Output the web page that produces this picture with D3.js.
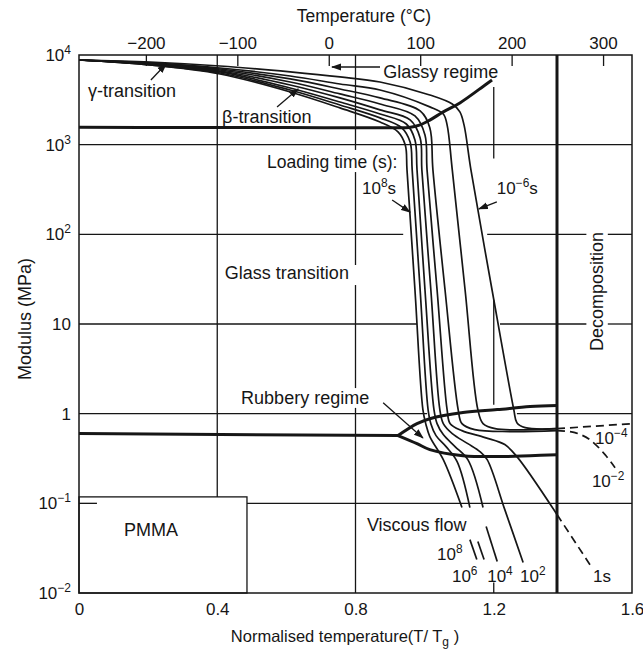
<!DOCTYPE html>
<html>
<head>
<meta charset="utf-8">
<script src="https://cdn.jsdelivr.net/npm/d3@7"></script>
<style>
  html, body { margin: 0; padding: 0; background: #fff; }
  svg { display: block; font-family: "Liberation Sans", Arial, Helvetica, sans-serif; }
</style>
</head>
<body>
<svg id="chart" width="643" height="653"></svg>
<script>
// PMMA modulus vs normalised temperature, for loading times 1e8 s ... 1e-6 s
// points are [T/Tg, modulus in MPa]

const TG = 378; // K, used for the top (°C) axis
const xTicks = [0, 0.4, 0.8, 1.2, 1.6];
const yTicks = [1e-2, 1e-1, 1, 10, 100, 1000, 1e4];
const yTickLabels = [['10', '−2'], ['10', '−1'], ['1'], ['10'], ['10', '2'], ['10', '3'], ['10', '4']];
const tempTicks = [-200, -100, 0, 100, 200, 300];
const xDecomp = 1.383;

// each loading-time curve: solid segments, then an optional dashed tail
const t1e8 = [
  [[0, 8800], [0.206, 7740], [0.408, 6140], [0.611, 3870], [0.755, 2570], [0.871, 1790], [0.923, 1390], [0.944, 990], [0.949, 524], [0.972, 24.1], [0.995, 1.11], [1.004, 0.754], [1.015, 0.555], [1.054, 0.307], [1.108, 0.0897]],
  [[1.131, 0.0394], [1.151, 0.0236]]
];
const t1e6 = [
  [[0, 8800], [0.206, 7740], [0.408, 6300], [0.611, 4070], [0.755, 2770], [0.871, 1990], [0.934, 1540], [0.958, 1070], [0.964, 524], [0.987, 24.1], [1.010, 1.11], [1.018, 0.774], [1.033, 0.569], [1.062, 0.429], [1.094, 0.292], [1.131, 0.0897]],
  [[1.154, 0.0375], [1.172, 0.0236]]
];
const t1e4 = [
  [[0, 8800], [0.206, 7840], [0.408, 6470], [0.611, 4290], [0.755, 2990], [0.871, 2200], [0.947, 1700], [0.972, 1130], [0.978, 524], [1.001, 24.1], [1.027, 1.11], [1.036, 0.774], [1.054, 0.584], [1.088, 0.429], [1.125, 0.307], [1.169, 0.0897]],
  [[1.178, 0.0551], [1.210, 0.0224]]
];
const t1e2 = [
  [[0, 8800], [0.206, 7940], [0.408, 6630], [0.611, 4630], [0.755, 3320], [0.871, 2440], [0.958, 1890], [0.987, 1190], [0.992, 524], [1.018, 24.1], [1.044, 1.11], [1.054, 0.774], [1.080, 0.599], [1.125, 0.463], [1.160, 0.377], [1.181, 0.307], [1.232, 0.0851], [1.285, 0.0219]]
];
const t1 = [
  [[0, 8800], [0.206, 7940], [0.408, 6800], [0.611, 5000], [0.755, 3680], [0.871, 2840], [0.972, 2090], [1.001, 1280], [1.007, 524], [1.036, 24.1], [1.065, 1.11], [1.074, 0.774], [1.108, 0.647], [1.175, 0.541], [1.232, 0.452], [1.267, 0.332], [1.383, 0.0750]]
];
const t1Dashed = [[1.383, 0.0750], [1.484, 0.0192]];
const t1em2 = [
  [[0, 8800], [0.206, 8150], [0.408, 6980], [0.611, 5410], [0.755, 4180], [0.871, 3320], [0.987, 2380], [1.015, 1540], [1.024, 524], [1.059, 24.1], [1.097, 1.11], [1.108, 0.774], [1.145, 0.664], [1.247, 0.631], [1.383, 0.647]]
];
const t1em2Dashed = [[1.383, 0.647], [1.435, 0.614], [1.478, 0.513], [1.522, 0.349], [1.551, 0.250]];
const t1em4 = [
  [[0, 8800], [0.206, 8150], [0.408, 7160], [0.611, 5830], [0.755, 4750], [0.871, 4070], [1.015, 2640], [1.054, 2200], [1.065, 1660], [1.080, 524], [1.117, 24.1], [1.154, 1.11], [1.169, 0.774], [1.204, 0.680], [1.383, 0.680]]
];
const t1em4Dashed = [[1.383, 0.680], [1.6, 0.774]];
const t1em6 = [
  [[0, 8800], [0.206, 8360], [0.408, 7540], [0.611, 6470], [0.755, 5690], [0.871, 5000], [1.015, 3580], [1.080, 2840], [1.102, 2320], [1.114, 1660], [1.134, 524], [1.195, 24.1], [1.258, 1.11], [1.267, 0.794], [1.291, 0.698], [1.383, 0.680]]
];

// heavy boundary lines
const glassyEdge = [[0, 1560], [0.3, 1555], [0.6, 1550], [0.9, 1545], [0.955, 1555], [0.985, 1650], [1.015, 1880], [1.054, 2320], [1.102, 2920], [1.175, 4630], [1.195, 5260]];
const rubberyPlateau = [[0, 0.60], [0.923, 0.57]];
const lensUpper = [[0.923, 0.57], [0.978, 0.774], [1.015, 0.879], [1.111, 1.03], [1.210, 1.11], [1.305, 1.20], [1.383, 1.23]];
const lensLower = [[0.923, 0.57], [0.978, 0.463], [1.015, 0.397], [1.111, 0.340], [1.210, 0.332], [1.305, 0.340], [1.383, 0.349]];

// broken grid: [E, x from, x to] and [x, E top, E bottom]
const hGrid = [
  [1000, 0, 1.6],
  [100, 0, 0.938], [100, 1.181, 1.468], [100, 1.53, 1.6],
  [10, 0, 0.978], [10, 1.218, 1.468], [10, 1.53, 1.6],
  [1, 0, 1.007], [1, 1.267, 1.6],
  [0.1, 0, 0.052], [0.1, 0.486, 1.6]
];
const vGrid = [
  [0.4, 1e4, 0.118],
  [0.8, 1e4, 873], [0.8, 495, 45.5], [0.8, 27.2, 1.93], [0.8, 1.16, 0.01],
  [1.2, 4400, 700], [1.2, 18.6, 1.26], [1.2, 0.0131, 0.01]
];
const pmmaBox = { x0: 0, x1: 0.486, E0: 0.01, E1: 0.118 };

// annotation text: parts are [string, 'sup'|undefined]
const notes = [
  { parts: [['γ-transition']], x: 0.026, E: 3400, size: 18 },
  { parts: [['β-transition']], x: 0.414, E: 1750, size: 18 },
  { parts: [['Glassy regime']], x: 0.880, E: 5540, size: 18 },
  { parts: [['Loading time (s):']], x: 0.544, E: 550, size: 17.5 },
  { parts: [['10'], ['8', 'sup'], ['s']], x: 0.819, E: 282, size: 17 },
  { parts: [['10'], ['−6', 'sup'], ['s']], x: 1.209, E: 282, size: 17 },
  { parts: [['Glass transition']], x: 0.422, E: 31.8, size: 18 },
  { parts: [['Rubbery regime']], x: 0.469, E: 1.28, size: 18 },
  { parts: [['Viscous flow']], x: 0.833, E: 0.0492, size: 18 },
  { parts: [['PMMA']], x: 0.130, E: 0.0433, size: 18 },
  { parts: [['10'], ['8', 'sup']], x: 1.036, E: 0.0233, size: 17 },
  { parts: [['10'], ['6', 'sup']], x: 1.079, E: 0.0133, size: 17 },
  { parts: [['10'], ['4', 'sup']], x: 1.181, E: 0.0133, size: 17 },
  { parts: [['10'], ['2', 'sup']], x: 1.276, E: 0.0133, size: 17 },
  { parts: [['1s']], x: 1.487, E: 0.0133, size: 17 },
  { parts: [['10'], ['−4', 'sup']], x: 1.493, E: 0.459, size: 17 },
  { parts: [['10'], ['−2', 'sup']], x: 1.484, E: 0.152, size: 17 }
];
// arrows: [from x, from E, to x, to E]
const arrows = [
  [0.208, 5260, 0.252, 7940],
  [0.573, 2630, 0.634, 4180],
  [0.871, 7350, 0.732, 7350],
  [0.906, 242, 0.958, 177],
  [1.209, 230, 1.157, 192],
  [0.880, 1.32, 0.995, 0.536]
];

const svg = d3.select('#chart');
const ink = '#161616';

const x = d3.scaleLinear().domain([0, 1.6]).range([79, 632]);
const y = d3.scaleLog().domain([0.01, 1e4]).range([593, 55]);
const tScale = d3.scaleLinear()
    .domain([-273.15, -273.15 + 1.6 * TG])
    .range([x(0), x(1.6)]);

const line = d3.line()
    .x(d => x(d[0]))
    .y(d => y(d[1]))
    .curve(d3.curveCatmullRom.alpha(0.5));

svg.append('defs').append('marker')
    .attr('id', 'head')
    .attr('markerUnits', 'userSpaceOnUse')
    .attr('markerWidth', 10).attr('markerHeight', 8)
    .attr('refX', 9).attr('refY', 4)
    .attr('orient', 'auto')
    .append('path')
    .attr('d', 'M0,0.5 L10,4 L0,7.5 Z')
    .attr('fill', ink);

// grid
const grid = svg.append('g').attr('stroke', ink).attr('stroke-width', 1.3);
hGrid.forEach(([E, a, b]) => {
    grid.append('line').attr('x1', x(a)).attr('x2', x(b)).attr('y1', y(E)).attr('y2', y(E));
});
vGrid.forEach(([v, e0, e1]) => {
    grid.append('line').attr('x1', x(v)).attr('x2', x(v)).attr('y1', y(e0)).attr('y2', y(e1));
});
grid.append('rect')
    .attr('x', x(pmmaBox.x0)).attr('y', y(pmmaBox.E1))
    .attr('width', x(pmmaBox.x1) - x(pmmaBox.x0))
    .attr('height', y(pmmaBox.E0) - y(pmmaBox.E1))
    .attr('fill', 'none');

// frame + decomposition line
svg.append('rect')
    .attr('x', x(0)).attr('y', y(1e4))
    .attr('width', x(1.6) - x(0)).attr('height', y(0.01) - y(1e4))
    .attr('fill', 'none').attr('stroke', ink).attr('stroke-width', 1.5);
svg.append('line')
    .attr('x1', x(xDecomp)).attr('x2', x(xDecomp))
    .attr('y1', y(1e4)).attr('y2', y(0.01))
    .attr('stroke', ink).attr('stroke-width', 3);

// heavy regime boundaries
[glassyEdge, rubberyPlateau, lensUpper, lensLower].forEach(pts => {
    svg.append('path').attr('d', line(pts))
        .attr('fill', 'none').attr('stroke', ink).attr('stroke-width', 3);
});

// loading-time curves
const curves = svg.append('g').attr('fill', 'none').attr('stroke', ink)
    .attr('stroke-width', 1.7).attr('stroke-linejoin', 'round');
[t1e8, t1e6, t1e4, t1e2, t1, t1em2, t1em4, t1em6].forEach(segs => {
    segs.forEach(seg => curves.append('path').attr('d', line(seg)));
});
[t1Dashed, t1em2Dashed, t1em4Dashed].forEach(seg => {
    curves.append('path').attr('d', line(seg)).attr('stroke-dasharray', '8,5');
});

// text helper with superscripts
function richText(g, parts, px, py, size) {
    const t = g.append('text').attr('x', px).attr('y', py).attr('font-size', size);
    let shift = 0;
    parts.forEach(([s, kind]) => {
        const want = kind === 'sup' ? -Math.round(size * 0.42) : kind === 'sub' ? 4 : 0;
        const sp = t.append('tspan').text(s);
        if (want !== shift) sp.attr('dy', want - shift);
        if (kind) sp.attr('font-size', size * 0.7);
        shift = want;
    });
    return t;
}

const notesG = svg.append('g').attr('fill', ink);
notes.forEach(n => richText(notesG, n.parts, x(n.x), y(n.E), n.size));
notesG.append('text')
    .attr('transform', `translate(${x(1.499)},${y(23)}) rotate(-90)`)
    .attr('text-anchor', 'middle').attr('dominant-baseline', 'central')
    .attr('font-size', 18)
    .text('Decomposition');

const arrowG = svg.append('g').attr('stroke', ink).attr('stroke-width', 1.3);
arrows.forEach(([a, e0, b, e1]) => {
    arrowG.append('line')
        .attr('x1', x(a)).attr('y1', y(e0))
        .attr('x2', x(b)).attr('y2', y(e1))
        .attr('marker-end', 'url(#head)');
});

// axes
const axisLeftG = svg.append('g')
    .attr('transform', `translate(${x(0)},0)`)
    .call(d3.axisLeft(y).tickValues(yTicks).tickSize(0).tickPadding(8));
axisLeftG.select('.domain').remove();
axisLeftG.selectAll('text').each(function (d, i) {
    const t = d3.select(this).text(null).attr('font-size', 17).attr('fill', ink);
    const lab = yTickLabels[i];
    t.append('tspan').text(lab[0]);
    if (lab[1]) t.append('tspan').attr('dy', -7).attr('font-size', 12).text(lab[1]);
});

const axisBottomG = svg.append('g')
    .attr('transform', `translate(0,${y(0.01)})`)
    .call(d3.axisBottom(x).tickValues(xTicks).tickSize(0).tickPadding(10)
        .tickFormat(d => d === 0 ? '0' : d.toFixed(1)));
axisBottomG.select('.domain').remove();
axisBottomG.selectAll('text').attr('font-size', 17).attr('fill', ink);

const axisTopG = svg.append('g')
    .attr('transform', `translate(0,${y(1e4)})`)
    .call(d3.axisTop(tScale).tickValues(tempTicks).tickSize(-11).tickPadding(6)
        .tickFormat(d => d < 0 ? '−' + Math.abs(d) : String(d)));
axisTopG.select('.domain').remove();
axisTopG.selectAll('line').attr('stroke', ink).attr('stroke-width', 1.3);
axisTopG.selectAll('text').attr('font-size', 17).attr('fill', ink);

// axis titles
svg.append('text')
    .attr('x', 364).attr('y', 22)
    .attr('text-anchor', 'middle').attr('font-size', 17.5).attr('fill', ink)
    .text('Temperature (°C)');
svg.append('text')
    .attr('transform', 'translate(31,319) rotate(-90)')
    .attr('text-anchor', 'middle').attr('font-size', 18).attr('fill', ink)
    .text('Modulus (MPa)');
const xTitle = svg.append('text')
    .attr('x', 345).attr('y', 642)
    .attr('text-anchor', 'middle').attr('font-size', 16.5).attr('fill', ink);
xTitle.append('tspan').text('Normalised temperature(T/ T');
xTitle.append('tspan').attr('dy', 4).attr('font-size', 12).text('g');
xTitle.append('tspan').attr('dy', -4).text(' )');
</script>
</body>
</html>
